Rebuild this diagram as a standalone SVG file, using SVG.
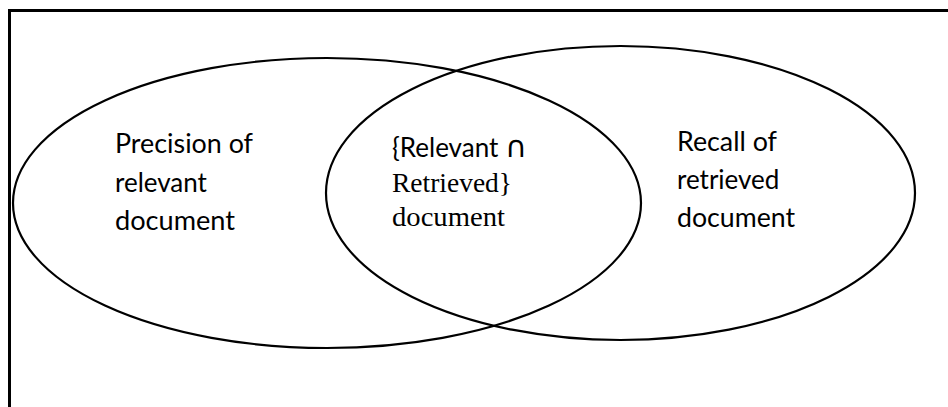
<svg xmlns="http://www.w3.org/2000/svg" width="948" height="407" viewBox="0 0 948 407">
  <style>
    .frame { fill: none; stroke: #000; stroke-width: 3; }
    .set { fill: none; stroke: #000; stroke-width: 2.2; }
    .sans { font-family: "Lato", "Open Sans", "Liberation Sans", sans-serif; font-size: 26px; fill: #000; }
    .serif { font-family: "Liberation Serif", "DejaVu Serif", serif; font-size: 28px; fill: #000; }
    .sym { font-family: "DejaVu Sans", sans-serif; font-size: 30px; }
  </style>
  <rect width="948" height="407" fill="#fff"/>
  <!-- outer frame (right and bottom edges run past the canvas) -->
  <rect class="frame" x="9.5" y="10.5" width="960" height="420"/>

  <g id="relevant">
    <ellipse class="set" cx="327" cy="203" rx="314" ry="145"/>
    <text class="sans" x="115" y="153" textLength="138" lengthAdjust="spacingAndGlyphs">Precision of</text>
    <text class="sans" x="115" y="192">relevant</text>
    <text class="sans" x="115" y="230" textLength="120" lengthAdjust="spacingAndGlyphs">document</text>
  </g>

  <g id="retrieved">
    <ellipse class="set" cx="620.5" cy="193" rx="294.5" ry="147"/>
    <text class="sans" x="677" y="151" textLength="100" lengthAdjust="spacingAndGlyphs">Recall of</text>
    <text class="sans" x="677" y="189">retrieved</text>
    <text class="sans" x="677" y="227" textLength="118" lengthAdjust="spacingAndGlyphs">document</text>
  </g>

  <g id="intersection">
    <text class="sans" x="392" y="157">{Relevant <tspan class="sym">∩</tspan></text>
    <text class="serif" x="392" y="192" textLength="120" lengthAdjust="spacingAndGlyphs">Retrieved}</text>
    <text class="serif" x="392" y="226" textLength="113" lengthAdjust="spacingAndGlyphs">document</text>
  </g>
</svg>
